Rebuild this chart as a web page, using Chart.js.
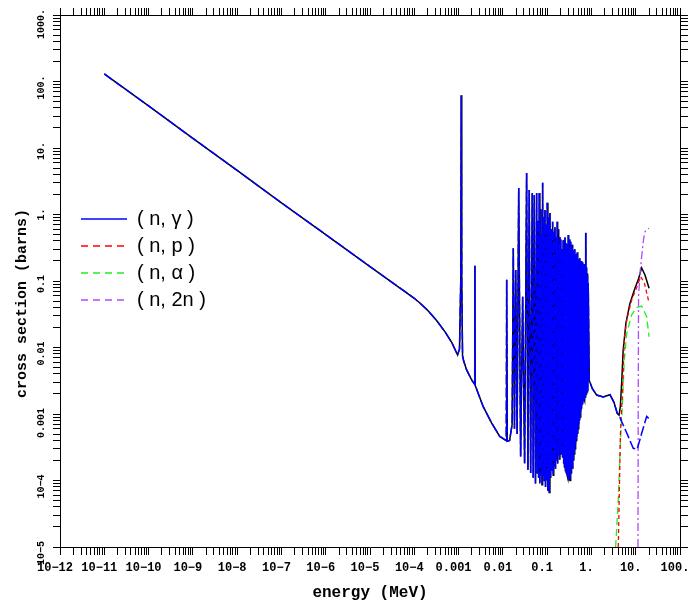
<!DOCTYPE html>
<html>
<head>
<meta charset="utf-8">
<script src="https://cdn.jsdelivr.net/npm/chart.js"></script>
<style>
  html, body { margin: 0; padding: 0; background: #fff; }
  #wrap { width: 688px; height: 607px; }
</style>
</head>
<body>
<div id="wrap"><canvas id="xsChart"></canvas></div>
<script>
// energy in MeV, cross section in barns

// (n,gamma)
const captureEnergy = [
  1e-11, 1e-10, 1e-9, 1e-8, 1e-7, 1e-6, 1e-5, 1e-4, 1.34e-4, 2e-4, 3.16e-4, 5e-4, 7.1e-4, 9.5e-4,
  1.05e-3, 1.12e-3, 1.15e-3, 1.18e-3, 1.23e-3, 1.3e-3, 1.52e-3, 2.0e-3,
  2.31e-3, 2.34e-3, 2.37e-3, 3.6e-3, 5.6e-3, 8.5e-3,
  0.0118, 0.0122, 0.0126, 0.0142, 0.0162, 0.0172, 0.0183, 0.0195, 0.0210, 0.0228,
  0.0252, 0.0280, 0.0310, 0.0344, 0.0368, 0.0394, 0.0425, 0.0461, 0.0485, 0.0512,
  0.0545, 0.0579, 0.0598, 0.062, 0.0642, 0.0664, 0.0685, 0.0705, 0.0725, 0.0745, 0.0768, 0.0791,
  0.0815, 0.084, 0.0866, 0.0893, 0.092, 0.0948, 0.0975, 0.1005, 0.104, 0.1078, 0.1115, 0.1156,
  0.12, 0.124, 0.128, 0.133, 0.137, 0.141, 0.1455, 0.150, 0.1545, 0.159, 0.164, 0.169,
  0.1725, 0.176, 0.1805, 0.185, 0.19, 0.194, 0.198, 0.203, 0.209, 0.216, 0.223, 0.231,
  0.2355, 0.240, 0.2465, 0.253, 0.259, 0.266, 0.271, 0.276, 0.282, 0.288, 0.294, 0.300,
  0.305, 0.31, 0.317, 0.324, 0.332, 0.340, 0.346, 0.352, 0.36, 0.368, 0.378, 0.389,
  0.395, 0.402, 0.411, 0.42, 0.427, 0.434, 0.44, 0.447, 0.454, 0.462, 0.47, 0.478, 0.487, 0.496, 0.505, 0.514,
  0.521, 0.528, 0.538, 0.548, 0.559, 0.570, 0.577, 0.585, 0.592, 0.60, 0.609, 0.618, 0.627, 0.635, 0.644, 0.653,
  0.662, 0.672, 0.681, 0.69, 0.70, 0.71, 0.72, 0.73, 0.741, 0.752,
  0.762, 0.773, 0.784, 0.795, 0.807, 0.82, 0.833, 0.847,
  0.893, 1.05, 1.31, 1.85, 2.62, 3.23, 3.83, 4.2,
  4.81, 6.78, 8.79, 10.8, 13.6, 17.7, 20
];
const captureSigma = [
  130, 43, 14, 4.6, 1.5, 0.5, 0.165, 0.055, 0.0467, 0.0363, 0.0257, 0.017, 0.0117, 0.0077,
  0.0095, 0.1, 62, 0.1, 0.0075, 0.0063, 0.0046, 0.0032,
  0.0028, 0.17, 0.0027, 0.00129, 0.00073, 0.00046,
  0.0004, 0.104, 0.00039, 0.0004, 0.0007, 0.31, 0.0006, 0.146, 0.0005, 2.5,
  0.00023, 0.058, 0.00018, 4.2, 0.000145, 2.33, 0.00013, 2.1, 0.00011, 1.96,
  0.00009, 2.1, 0.00013, 0.8, 0.00011, 2.1, 0.00009, 1.2, 0.00012, 0.5, 0.000086, 3.0,
  0.00012, 0.9, 0.0001, 1.17, 0.00008, 0.7, 0.0001, 1.5, 0.00007, 0.9, 0.000066, 1.05,
  0.00011, 0.6, 0.00014, 0.78, 0.00012, 0.55, 0.00017, 0.65, 0.00015, 0.45, 0.0002, 0.78,
  0.00018, 0.6, 0.00024, 0.35, 0.00021, 0.46, 0.00025, 0.42, 0.00026, 0.3, 0.00022, 0.41,
  0.00018, 0.3, 0.00016, 0.45, 0.00014, 0.37, 0.00013, 0.3, 0.00012, 0.36, 0.00011, 0.49,
  0.0001, 0.33, 0.00012, 0.42, 0.0001, 0.39, 0.00013, 0.3, 0.00016, 0.35, 0.00015, 0.29,
  0.0002, 0.24, 0.00025, 0.3, 0.0003, 0.2, 0.00035, 0.25, 0.0004, 0.22, 0.00045, 0.27, 0.0005, 0.19, 0.0006, 0.21,
  0.0007, 0.18, 0.0008, 0.22, 0.0009, 0.2, 0.0011, 0.17, 0.0012, 0.2, 0.0013, 0.15, 0.0014, 0.19, 0.0015, 0.164,
  0.0016, 0.15, 0.0017, 0.18, 0.0016, 0.14, 0.0018, 0.16, 0.0019, 0.53,
  0.002, 0.16, 0.0021, 0.13, 0.0021, 0.12, 0.0022, 0.093,
  0.0032, 0.0024, 0.00193, 0.0018, 0.00195, 0.0015, 0.00102, 0.00096,
  0.00077, 0.00046, 0.000305, 0.000295, 0.00051, 0.00092, 0.00085
];

// black total curve, follows (n,gamma) up to about 4.2 MeV
const totalHighEnergy = [4.5, 4.85, 5.2, 6.0, 7.4, 9.6, 11.4, 13.6, 16.2, 20];
const totalHighSigma = [0.0013, 0.0032, 0.009, 0.023, 0.046, 0.078, 0.104, 0.158, 0.123, 0.078];

// (n,p)
const protonEnergy = [4.04, 4.52, 5.07, 5.52, 6.27, 8.1, 10.5, 12.9, 15.6, 20];
const protonSigma = [1e-5, 5.1e-4, 2.6e-3, 0.013, 0.026, 0.052, 0.080, 0.116, 0.095, 0.047];

// (n,alpha)
const alphaEnergy = [3.52, 4.04, 4.52, 5.07, 5.52, 6.27, 8.1, 10.5, 13.6, 17.7, 20];
const alphaSigma = [1e-5, 5.1e-5, 4.1e-4, 1.6e-3, 6.5e-3, 0.0163, 0.031, 0.040, 0.042, 0.029, 0.0145];

// (n,2n)
const n2nEnergy = [11.25, 11.4, 11.6, 12.5, 13.6, 15, 16.2, 18, 20];
const n2nSigma = [1e-5, 0.002, 0.06, 0.13, 0.23, 0.42, 0.55, 0.6, 0.62];

const seriesNames = ['( n, \u03b3 )', '( n, p )', '( n, \u03b1 )', '( n, 2n )'];

const xTickLabels = ['10\u221212', '10\u221211', '10\u221210', '10\u22129', '10\u22128', '10\u22127',
  '10\u22126', '10\u22125', '10\u22124', '0.001', '0.01', '0.1', '1.', '10.', '100.'];
const yTickLabels = ['10\u22125', '10\u22124', '0.001', '0.01', '0.1', '1.', '10.', '100.', '1000.'];
const xFirstDecade = -12;
const yFirstDecade = -5;

function toPoints(xs, ys) {
  return xs.map((x, i) => ({ x: x, y: ys[i] }));
}

const totalPoints = toPoints(captureEnergy, captureSigma)
  .filter(p => p.x <= 4.2)
  .concat(toPoints(totalHighEnergy, totalHighSigma));

// ticks at 1..9 x 10^n, labels only on the decades
function decadeTicks(first, count) {
  const ticks = [];
  for (let d = first; d < first + count; d++) {
    for (let m = 1; m <= 9; m++) {
      if (d === first + count - 1 && m > 1) break;
      ticks.push({ value: Number(m + 'e' + d) });
    }
  }
  return ticks;
}

function decadeLabel(labels, first) {
  return function (value) {
    const d = Math.round(Math.log10(value));
    if (Math.abs(value / Math.pow(10, d) - 1) > 1e-6) return '';
    return labels[d - first] || '';
  };
}

function fixSize(prop, size) {
  return function (scale) {
    scale[prop] = size;
    scale.paddingLeft = 0;
    scale.paddingRight = 0;
    scale.paddingTop = 0;
    scale.paddingBottom = 0;
  };
}

const tickGrid = (len) => ({
  drawOnChartArea: false,
  drawTicks: true,
  tickLength: len,
  color: '#000',
  lineWidth: 1
});
const axisBorder = { display: true, color: '#000', width: 1 };

// put the legend inside the plot, left side
const legendPlacer = {
  id: 'legendPlacer',
  afterLayout(chart) {
    chart.legend.left = 74;
    chart.legend.top = 202;
  }
};

new Chart(document.getElementById('xsChart').getContext('2d'), {
  type: 'line',
  data: {
    datasets: [{
      label: seriesNames[0],
      data: toPoints(captureEnergy, captureSigma),
      borderColor: '#0000ff',
      borderWidth: 1.5,
      borderDash: [10, 3]
    }, {
      label: seriesNames[1],
      data: toPoints(protonEnergy, protonSigma),
      borderColor: '#ff0000',
      borderWidth: 1.3,
      borderDash: [4, 3]
    }, {
      label: seriesNames[2],
      data: toPoints(alphaEnergy, alphaSigma),
      borderColor: '#22ee22',
      borderWidth: 1.3,
      borderDash: [7, 4]
    }, {
      label: seriesNames[3],
      data: toPoints(n2nEnergy, n2nSigma),
      borderColor: '#b048ff',
      borderWidth: 1.3,
      borderDash: [8, 3, 2, 3]
    }, {
      label: 'total',
      data: totalPoints,
      borderColor: '#000000',
      borderWidth: 1.5
    }]
  },
  options: {
    responsive: true,
    maintainAspectRatio: false,
    animation: false,
    elements: {
      point: { radius: 0 },
      line: { tension: 0 }
    },
    layout: { padding: 0 },
    scales: {
      x: {
        type: 'logarithmic',
        position: 'bottom',
        min: 1e-12,
        max: 100,
        afterBuildTicks: s => { s.ticks = decadeTicks(xFirstDecade, xTickLabels.length); },
        afterFit: fixSize('height', 60),
        border: axisBorder,
        grid: tickGrid(8),
        ticks: {
          autoSkip: false,
          minRotation: 0,
          maxRotation: 0,
          padding: 6,
          labelOffset: -5,
          color: '#000',
          font: { family: 'Liberation Mono', size: 12, weight: 'bold' },
          callback: decadeLabel(xTickLabels, xFirstDecade)
        },
        title: {
          display: true,
          text: 'energy (MeV)',
          color: '#000',
          font: { family: 'Liberation Mono', size: 16, weight: 'bold' },
          padding: { top: 0, bottom: 4 }
        }
      },
      x2: {
        type: 'logarithmic',
        position: 'top',
        min: 1e-12,
        max: 100,
        afterBuildTicks: s => { s.ticks = decadeTicks(xFirstDecade, xTickLabels.length); },
        afterFit: fixSize('height', 15),
        border: axisBorder,
        grid: tickGrid(7),
        ticks: { display: false, autoSkip: false }
      },
      y: {
        type: 'logarithmic',
        position: 'left',
        min: 1e-5,
        max: 1000,
        afterBuildTicks: s => { s.ticks = decadeTicks(yFirstDecade, yTickLabels.length); },
        afterFit: fixSize('width', 29),
        border: axisBorder,
        grid: tickGrid(7),
        ticks: {
          autoSkip: false,
          minRotation: 90,
          maxRotation: 90,
          padding: 12,
          labelOffset: -6,
          color: '#000',
          font: { family: 'Liberation Mono', size: 10, weight: 'bold' },
          callback: decadeLabel(yTickLabels, yFirstDecade)
        }
      },
      y2: {
        type: 'logarithmic',
        position: 'right',
        min: 1e-5,
        max: 1000,
        afterBuildTicks: s => { s.ticks = decadeTicks(yFirstDecade, yTickLabels.length); },
        afterFit: fixSize('width', 8),
        border: axisBorder,
        grid: tickGrid(8),
        ticks: { display: false, autoSkip: false }
      }
    },
    plugins: {
      tooltip: { enabled: false },
      title: {
        display: true,
        position: 'left',
        text: 'cross section (barns)',
        color: '#000',
        font: { family: 'Liberation Mono', size: 15, weight: 'bold' },
        padding: { top: 13, bottom: 0 }
      },
      legend: {
        position: 'chartArea',
        align: 'start',
        labels: {
          usePointStyle: true,
          pointStyle: 'line',
          pointStyleWidth: 46,
          padding: 7,
          color: '#000',
          font: { family: 'Liberation Sans', size: 20 },
          filter: item => item.datasetIndex < 4,
          generateLabels: chart => {
            const items = Chart.defaults.plugins.legend.labels.generateLabels(chart);
            items.forEach(item => {
              item.lineDash = item.datasetIndex === 0 ? [] : [7, 5];
              item.lineWidth = 1.5;
            });
            return items;
          }
        }
      }
    }
  },
  plugins: [legendPlacer]
});
</script>
</body>
</html>
